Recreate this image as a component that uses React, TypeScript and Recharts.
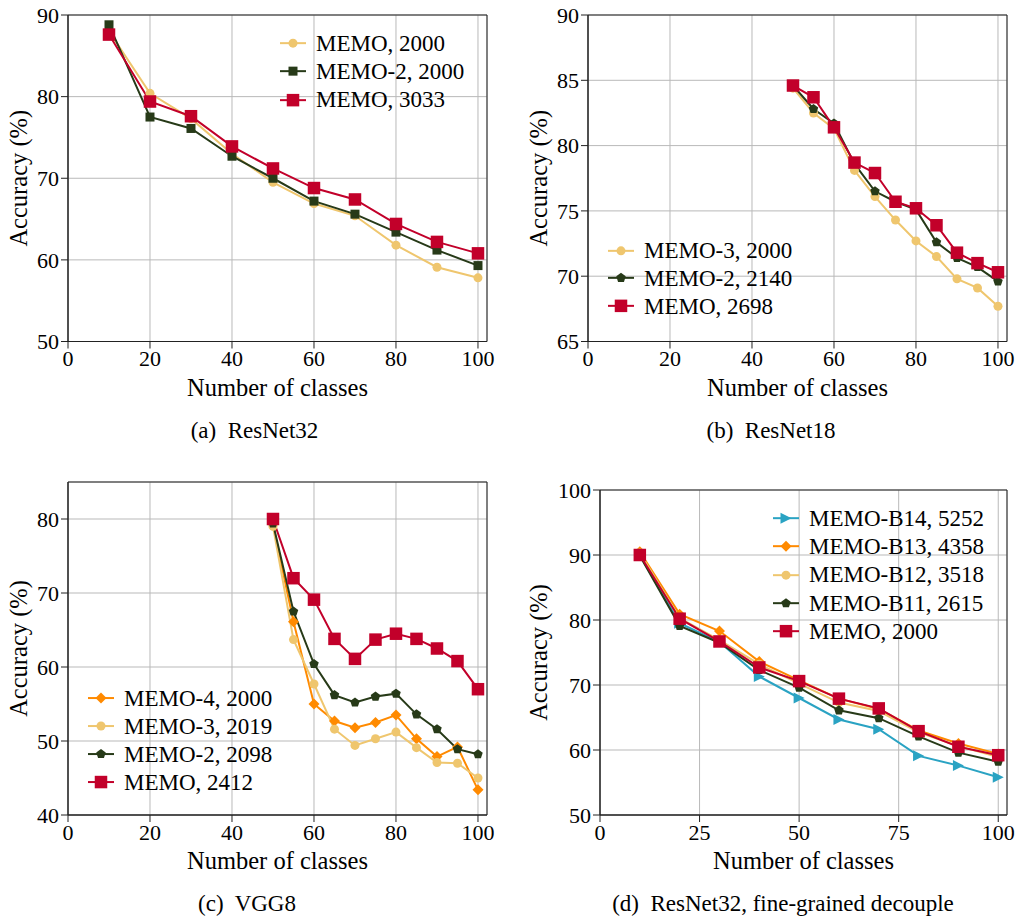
import React from "react";
import {
  LineChart,
  Line,
  XAxis,
  YAxis,
  CartesianGrid,
  ReferenceArea,
  Legend,
  Label,
} from "recharts";

const FONT = '"Liberation Serif", Tinos, "DejaVu Serif", serif';

const YELLOW = "#EFC66E";
const GREEN = "#273A18";
const RED = "#C2002A";
const ORANGE = "#FF8A00";
const CYAN = "#2AA3C3";

// (a) ResNet32
const classesA = [10, 20, 30, 40, 50, 60, 70, 80, 90, 100];
const aMemo2000 = [88.0, 80.4, 77.3, 73.0, 69.5, 66.9, 65.4, 61.8, 59.1, 57.8];
const aMemo2_2000 = [88.8, 77.5, 76.1, 72.7, 70.0, 67.2, 65.6, 63.4, 61.2, 59.3];
const aMemo3033 = [87.6, 79.4, 77.6, 73.9, 71.2, 68.8, 67.4, 64.4, 62.2, 60.8];

// (b) ResNet18
const classesB = [50, 55, 60, 65, 70, 75, 80, 85, 90, 95, 100];
const bMemo3_2000 = [84.4, 82.5, 81.3, 78.1, 76.1, 74.3, 72.7, 71.5, 69.8, 69.1, 67.7];
const bMemo2_2140 = [84.6, 82.8, 81.7, 78.6, 76.5, 75.7, 75.1, 72.6, 71.4, 70.7, 69.6];
const bMemo2698 = [84.6, 83.7, 81.4, 78.7, 77.9, 75.7, 75.2, 73.9, 71.8, 71.0, 70.3];

// (c) VGG8
const classesC = [50, 55, 60, 65, 70, 75, 80, 85, 90, 95, 100];
const cMemo4_2000 = [79.3, 66.1, 55.0, 52.7, 51.8, 52.5, 53.5, 50.3, 47.9, 49.2, 43.4];
const cMemo3_2019 = [79.0, 63.7, 57.7, 51.6, 49.4, 50.3, 51.2, 49.1, 47.1, 47.0, 45.0];
const cMemo2_2098 = [79.4, 67.5, 60.4, 56.2, 55.2, 56.0, 56.4, 53.6, 51.6, 48.9, 48.2];
const cMemo2412 = [80.0, 72.0, 69.1, 63.8, 61.1, 63.7, 64.5, 63.8, 62.5, 60.8, 57.0];

// (d) ResNet32, fine-grained decouple
const classesD = [10, 20, 30, 40, 50, 60, 70, 80, 90, 100];
const dB14_5252 = [90.0, 79.5, 76.6, 71.3, 68.0, 64.7, 63.2, 59.1, 57.6, 55.8];
const dB13_4358 = [90.5, 80.9, 78.3, 73.6, 70.7, 67.9, 66.3, 63.0, 61.0, 59.4];
const dB12_3518 = [90.3, 80.3, 76.9, 73.2, 70.2, 67.3, 66.0, 62.7, 60.6, 58.9];
const dB11_2615 = [89.9, 79.1, 76.5, 72.3, 69.6, 66.1, 64.9, 62.1, 59.6, 58.2];
const dMemo2000 = [90.0, 80.2, 76.7, 72.7, 70.6, 67.9, 66.4, 62.9, 60.5, 59.2];

const ticks20 = [0, 20, 40, 60, 80, 100];
const ticks25 = [0, 25, 50, 75, 100];

type Shape = "circle" | "square" | "pentagon" | "diamond" | "triangle";

interface Series {
  key: string;
  name: string;
  color: string;
  shape: Shape;
  size: number;
  values: number[];
}

function Marker({ shape, cx, cy, size, color }: { shape: Shape; cx: number; cy: number; size: number; color: string }) {
  const h = size / 2;
  if (shape === "circle") return <circle cx={cx} cy={cy} r={h} fill={color} />;
  if (shape === "square") return <rect x={cx - h} y={cy - h} width={size} height={size} fill={color} />;
  if (shape === "diamond")
    return <polygon points={`${cx},${cy - h} ${cx + h},${cy} ${cx},${cy + h} ${cx - h},${cy}`} fill={color} />;
  if (shape === "triangle")
    return <polygon points={`${cx + h},${cy} ${cx - h},${cy - h} ${cx - h},${cy + h}`} fill={color} />;
  const pts = [0, 1, 2, 3, 4]
    .map((k) => {
      const a = ((-90 + 72 * k) * Math.PI) / 180;
      return `${cx + h * Math.cos(a)},${cy + h * Math.sin(a)}`;
    })
    .join(" ");
  return <polygon points={pts} fill={color} />;
}

interface PanelProps {
  left: number;
  top: number;
  w: number;
  h: number;
  classes: number[];
  series: Series[];
  xTicks: number[];
  yDomain: [number, number];
  yTicks: number[];
  yTitleOffset: number;
  caption: string;
  captionX: number;
  legLeft: number;
  legTop: number;
  rowH: number;
}

const X_MAX = 102.2;
const AX_W = 80;
const M_TOP = 14;

function Panel(p: PanelProps) {
  const data = p.classes.map((c, i) => {
    const row: Record<string, number> = { classes: c };
    p.series.forEach((s) => (row[s.key] = s.values[i]));
    return row;
  });
  const ox = p.left - AX_W;
  const oy = p.top - M_TOP;
  const cx = AX_W + p.w / 2;
  const bottom = M_TOP + p.h;

  const renderLegend = () => (
    <div style={{ fontFamily: FONT, fontSize: 23, color: "#000" }}>
      {p.series.map((s) => (
        <div key={s.key} style={{ display: "flex", alignItems: "center", height: p.rowH, whiteSpace: "nowrap" }}>
          <svg width={26} height={p.rowH} style={{ overflow: "visible" }}>
            <line x1={0} x2={26} y1={p.rowH / 2} y2={p.rowH / 2} stroke={s.color} strokeWidth={2} />
            <Marker shape={s.shape} cx={13} cy={p.rowH / 2} size={s.size} color={s.color} />
          </svg>
          <span style={{ marginLeft: 10, lineHeight: 1, fontFamily: FONT }}>{s.name}</span>
        </div>
      ))}
    </div>
  );

  return (
    <div style={{ position: "absolute", left: ox, top: oy }}>
      <LineChart
        width={AX_W + p.w + 14}
        height={M_TOP + p.h + 110}
        data={data}
        margin={{ top: M_TOP, right: 14, bottom: 0, left: 0 }}
      >
        <CartesianGrid stroke="#b9b9b9" strokeWidth={1} />
        <XAxis
          dataKey="classes"
          type="number"
          domain={[0, X_MAX]}
          ticks={p.xTicks}
          interval={0}
          allowDataOverflow
          height={110}
          tickSize={7}
          tickMargin={2}
          stroke="#222"
          tick={{ fill: "#000", fontSize: 22, fontFamily: FONT }}
        >
          <Label
            value="Number of classes"
            content={() => (
              <g fill="#000">
                <text x={cx} y={bottom + 54} textAnchor="middle" fontSize={24.5} fontFamily={FONT}>
                  Number of classes
                </text>
                <text
                  x={p.captionX - ox}
                  y={bottom + 96}
                  textAnchor="middle"
                  fontSize={23}
                  fontFamily={FONT}
                  style={{ whiteSpace: "pre" }}
                >
                  {p.caption}
                </text>
              </g>
            )}
          />
        </XAxis>
        <YAxis
          type="number"
          domain={p.yDomain}
          ticks={p.yTicks}
          interval={0}
          allowDataOverflow
          width={AX_W}
          tickSize={7}
          tickMargin={2}
          stroke="#222"
          tick={{ fill: "#000", fontSize: 22, fontFamily: FONT }}
        >
          <Label
            value="Accuracy (%)"
            content={() => {
              const x = AX_W - p.yTitleOffset;
              const y = M_TOP + p.h / 2;
              return (
                <text
                  x={x}
                  y={y}
                  transform={`rotate(-90 ${x} ${y})`}
                  textAnchor="middle"
                  dominantBaseline="central"
                  fontFamily={FONT}
                  fontSize={24.5}
                  fill="#000"
                >
                  Accuracy (%)
                </text>
              );
            }}
          />
        </YAxis>
        <ReferenceArea
          x1={0}
          x2={X_MAX}
          y1={p.yDomain[0]}
          y2={p.yDomain[1]}
          fill="none"
          fillOpacity={0}
          stroke="#222"
          strokeWidth={1}
        />
        {p.series.map((s) => (
          <Line
            key={s.key}
            dataKey={s.key}
            name={s.name}
            type="linear"
            stroke={s.color}
            strokeWidth={2}
            isAnimationActive={false}
            activeDot={false}
            dot={(d: any) => (
              <Marker key={`${s.key}-${d.index}`} shape={s.shape} cx={d.cx} cy={d.cy} size={s.size} color={s.color} />
            )}
          />
        ))}
        <Legend
          layout="vertical"
          align="center"
          verticalAlign="middle"
          content={renderLegend}
          wrapperStyle={{ left: p.legLeft - ox, top: p.legTop - oy, width: "auto", height: "auto" }}
        />
      </LineChart>
    </div>
  );
}

// legend order, which is also the drawing order (last one on top)
const seriesA: Series[] = [
  { key: "m2000", name: "MEMO, 2000", color: YELLOW, shape: "circle", size: 9, values: aMemo2000 },
  { key: "m2_2000", name: "MEMO-2, 2000", color: GREEN, shape: "square", size: 9, values: aMemo2_2000 },
  { key: "m3033", name: "MEMO, 3033", color: RED, shape: "square", size: 12.5, values: aMemo3033 },
];

const seriesB: Series[] = [
  { key: "m3_2000", name: "MEMO-3, 2000", color: YELLOW, shape: "circle", size: 9, values: bMemo3_2000 },
  { key: "m2_2140", name: "MEMO-2, 2140", color: GREEN, shape: "pentagon", size: 10, values: bMemo2_2140 },
  { key: "m2698", name: "MEMO, 2698", color: RED, shape: "square", size: 12.5, values: bMemo2698 },
];

const seriesC: Series[] = [
  { key: "m4_2000", name: "MEMO-4, 2000", color: ORANGE, shape: "diamond", size: 11, values: cMemo4_2000 },
  { key: "m3_2019", name: "MEMO-3, 2019", color: YELLOW, shape: "circle", size: 9, values: cMemo3_2019 },
  { key: "m2_2098", name: "MEMO-2, 2098", color: GREEN, shape: "pentagon", size: 10, values: cMemo2_2098 },
  { key: "m2412", name: "MEMO, 2412", color: RED, shape: "square", size: 12.5, values: cMemo2412 },
];

const seriesD: Series[] = [
  { key: "b14", name: "MEMO-B14, 5252", color: CYAN, shape: "triangle", size: 11, values: dB14_5252 },
  { key: "b13", name: "MEMO-B13, 4358", color: ORANGE, shape: "diamond", size: 11, values: dB13_4358 },
  { key: "b12", name: "MEMO-B12, 3518", color: YELLOW, shape: "circle", size: 9, values: dB12_3518 },
  { key: "b11", name: "MEMO-B11, 2615", color: GREEN, shape: "pentagon", size: 10, values: dB11_2615 },
  { key: "m2000", name: "MEMO, 2000", color: RED, shape: "square", size: 12.5, values: dMemo2000 },
];

export default function App() {
  return (
    <div
      style={{
        position: "absolute",
        left: 0,
        top: 0,
        width: 1016,
        height: 917,
        background: "#fff",
        overflow: "hidden",
        fontFamily: FONT,
      }}
    >
      <Panel
        left={68}
        top={14.5}
        w={419}
        h={326.5}
        classes={classesA}
        series={seriesA}
        xTicks={ticks20}
        yDomain={[50, 90]}
        yTicks={[50, 60, 70, 80, 90]}
        yTitleOffset={50}
        caption="(a)  ResNet32"
        captionX={254.5}
        legLeft={280}
        legTop={29.2}
        rowH={28.3}
      />
      <Panel
        left={588}
        top={14.5}
        w={419}
        h={326.5}
        classes={classesB}
        series={seriesB}
        xTicks={ticks20}
        yDomain={[65, 90]}
        yTicks={[65, 70, 75, 80, 85, 90]}
        yTitleOffset={50}
        caption="(b)  ResNet18"
        captionX={771}
        legLeft={608}
        legTop={236.8}
        rowH={27.7}
      />
      <Panel
        left={68}
        top={482}
        w={419}
        h={333}
        classes={classesC}
        series={seriesC}
        xTicks={ticks20}
        yDomain={[40, 85]}
        yTicks={[40, 50, 60, 70, 80]}
        yTitleOffset={50}
        caption="(c)  VGG8"
        captionX={247}
        legLeft={88}
        legTop={684.2}
        rowH={28.1}
      />
      <Panel
        left={600}
        top={490}
        w={407}
        h={325}
        classes={classesD}
        series={seriesD}
        xTicks={ticks25}
        yDomain={[50, 100]}
        yTicks={[50, 60, 70, 80, 90, 100]}
        yTitleOffset={62}
        caption="(d)  ResNet32, fine-grained decouple"
        captionX={783}
        legLeft={773}
        legTop={504.1}
        rowH={28.35}
      />
    </div>
  );
}
